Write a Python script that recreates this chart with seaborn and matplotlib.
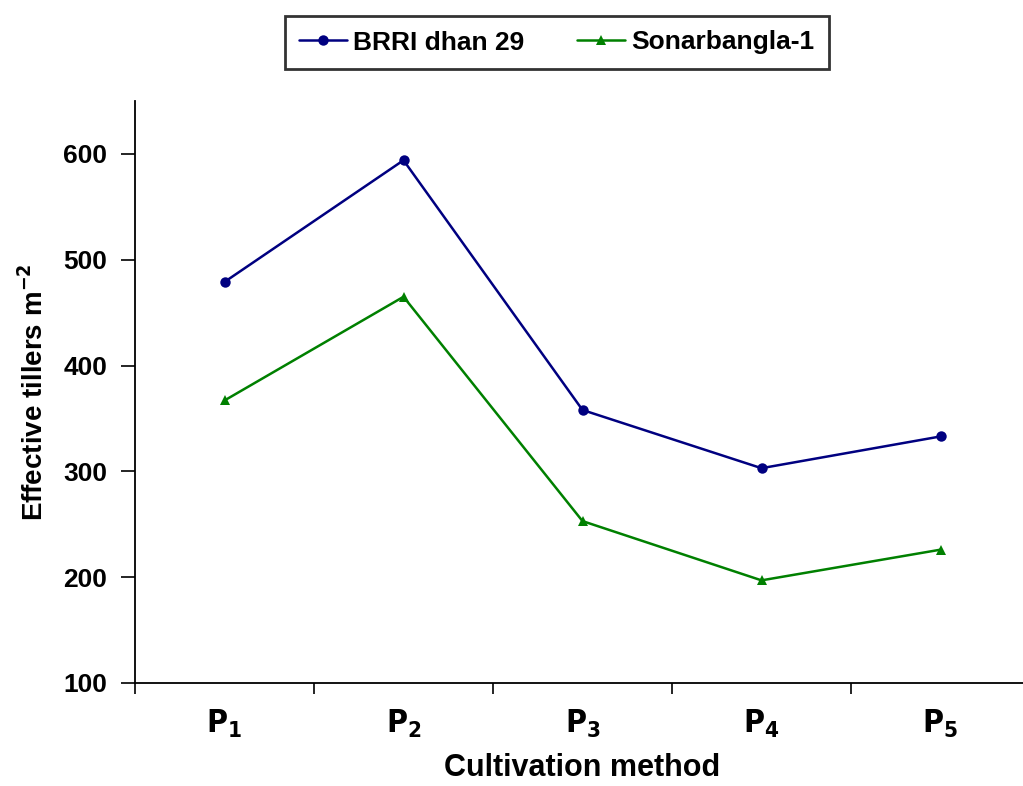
import matplotlib
matplotlib.use("Agg")
import matplotlib.pyplot as plt
import seaborn as sns
import pandas as pd

categories = ["P1", "P2", "P3", "P4", "P5"]
tick_labels = [r"$\mathbf{P}_{\mathbf{1}}$", r"$\mathbf{P}_{\mathbf{2}}$", r"$\mathbf{P}_{\mathbf{3}}$",
               r"$\mathbf{P}_{\mathbf{4}}$", r"$\mathbf{P}_{\mathbf{5}}$"]
brri = [479, 594, 358, 303, 333]
sonar = [367, 465, 253, 197, 226]
series_names = ["BRRI dhan 29", "Sonarbangla-1"]
y_ticks = [100, 200, 300, 400, 500, 600]

sns.set_style("white")
plt.rcParams['font.family'] = ['Liberation Sans', 'DejaVu Sans']
plt.rcParams['text.color'] = 'black'
plt.rcParams['axes.labelcolor'] = 'black'
plt.rcParams['xtick.color'] = 'black'
plt.rcParams['ytick.color'] = 'black'
plt.rcParams['mathtext.fontset'] = 'custom'
plt.rcParams['mathtext.default'] = 'bf'

tick_font = 'DejaVu Sans:bold:stretch=condensed'
plt.rcParams['mathtext.rm'] = tick_font
plt.rcParams['mathtext.bf'] = tick_font
plt.rcParams['mathtext.it'] = tick_font

df = pd.DataFrame({
    "x": list(range(len(categories))) * 2,
    "value": brri + sonar,
    "variety": [series_names[0]] * 5 + [series_names[1]] * 5,
})

fig = plt.figure(figsize=(10.23, 7.86), dpi=100)
ax = fig.add_axes([135 / 1023, 1 - 683 / 786, 895 / 1023, 582 / 786])

sns.lineplot(data=df, x="x", y="value", hue="variety", style="variety",
             palette={series_names[0]: "#000080", series_names[1]: "#008000"},
             markers={series_names[0]: "o", series_names[1]: "^"},
             dashes=False, linewidth=1.8, markersize=7.5, markeredgewidth=0,
             ax=ax, legend=True)

ax.set_xlim(-0.5, 4.5)
ax.set_ylim(100, 650)
ax.set_yticks(y_ticks)
ax.set_yticklabels([str(v) for v in y_ticks], fontsize=19, fontweight='bold')
ax.set_xticks(range(5))
ax.set_xticklabels(tick_labels, fontsize=23)
ax.set_xticks([i - 0.5 for i in range(6)], minor=True)
ax.tick_params(axis='x', which='major', length=0, pad=18)
ax.tick_params(axis='x', which='minor', length=8, width=1.2, direction='out', bottom=True)
ax.tick_params(axis='y', length=10, width=1.2, direction='out', left=True, pad=10)

for side in ["top", "right"]:
    ax.spines[side].set_visible(False)
for side in ["left", "bottom"]:
    ax.spines[side].set_color("black")
    ax.spines[side].set_linewidth(1.3)

ax.set_xlabel("Cultivation method", fontsize=22, fontweight='bold', labelpad=9)
ax.set_ylabel("Effective tillers m$^{-2}$", fontsize=20, fontweight='bold', labelpad=10)

handles, labels = ax.get_legend_handles_labels()
ax.get_legend().remove()
leg = fig.legend(handles, labels, loc="center", bbox_to_anchor=(557 / 1023, 1 - 42.5 / 786),
                 ncol=2, frameon=True, fancybox=False,
                 prop={'weight': 'bold', 'size': 19}, handlelength=1.8, handletextpad=0.25,
                 columnspacing=2.0, borderpad=0.55, edgecolor='black')
leg.get_frame().set_linewidth(2)

fig.savefig("out.png", dpi=100)
